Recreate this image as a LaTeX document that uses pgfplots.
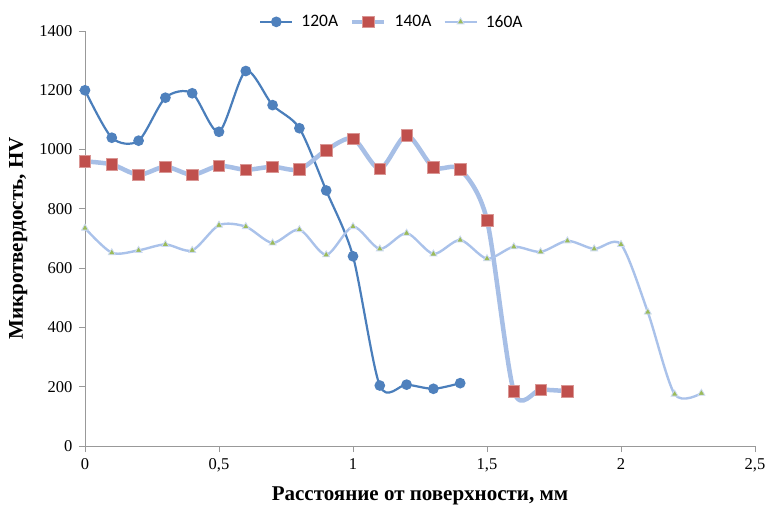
\documentclass[border=0pt]{standalone}
\usepackage{pgfplots}
\pgfplotsset{compat=1.18}
\usepackage{fontspec}
\setmainfont{Liberation Serif}
\newfontfamily\legfont{Carlito}
\definecolor{cA}{RGB}{74,126,187}
\definecolor{cAm}{RGB}{79,129,189}
\definecolor{cB}{RGB}{167,191,230}
\definecolor{cBm}{RGB}{192,80,77}
\definecolor{cC}{RGB}{170,194,234}
\definecolor{cCm}{RGB}{155,187,89}
\begin{document}
\begin{tikzpicture}
\path[use as bounding box] (-85pt,-61pt) rectangle (681pt,446pt);
\begin{axis}[
  at={(0pt,0pt)}, anchor=south west,
  scale only axis, width=670pt, height=415pt,
  xmin=0, xmax=2.5, ymin=0, ymax=1400,
  axis lines=left, axis line style={draw=gray!80, line width=0.8pt, -},
  xtick={0,0.5,1,1.5,2,2.5}, ytick={0,200,400,600,800,1000,1200,1400},
  xticklabels={0,{0,5},1,{1,5},2,{2,5}},
  yticklabels={0,200,400,600,800,1000,1200,1400},
  tick style={draw=gray!80, line width=0.8pt},
  tick align=outside, major tick length=6pt,
  tick label style={font=\rmfamily\fontsize{16.5}{19}\selectfont},
  xticklabel style={yshift=-3pt},
  yticklabel style={xshift=-3pt},
  xlabel={\textbf{Расстояние от поверхности, мм}},
  ylabel={\textbf{Микротвердость, HV}},
  label style={font=\rmfamily\fontsize{21}{24}\selectfont},
  xlabel style={at={(rel axis cs:0.5,0)}, anchor=north, yshift=-37pt},
  ylabel style={at={(rel axis cs:0,0.5)}, anchor=south, yshift=54pt},
  legend columns=3,
  legend style={draw=none, fill=none, at={(rel axis cs:0.458,1.022)}, anchor=center,
    font=\legfont\fontsize{17.5}{20}\selectfont, column sep=6pt,
    /tikz/every even column/.append style={column sep=10pt}},
  legend image code/.code={\draw[#1] (0pt,0pt) -- (15pt,0pt) (15pt,0pt) -- (32pt,0pt); \draw[#1, only marks] plot coordinates {(16pt,0pt)};},
  smooth, tension=0.47,
]
\addplot[color=cA, line width=2.2pt, mark=*, mark size=4.2pt, mark options={fill=cAm, draw=cAm}] coordinates {
(0,1200) (0.1,1040) (0.2,1030) (0.3,1175) (0.4,1190) (0.5,1060) (0.6,1265) (0.7,1150) (0.8,1072) (0.9,862) (1.0,640) (1.1,204) (1.2,207) (1.3,193) (1.4,212)};
\addlegendentry{120A}
\addplot[color=cB, line width=4.5pt, mark=square*, mark size=5.8pt, mark options={fill=cBm, draw=cBm!60!white, line width=0.6pt}] coordinates {
(0,960) (0.1,950) (0.2,915) (0.3,942) (0.4,915) (0.5,945) (0.6,932) (0.7,942) (0.8,933) (0.9,998) (1.0,1037) (1.1,935) (1.2,1048) (1.3,940) (1.4,933) (1.5,762) (1.6,185) (1.7,190) (1.8,185)};
\addlegendentry{140A}
\addplot[color=cC, line width=2.4pt, mark=triangle*, mark size=4pt, mark options={fill=cCm, draw=cC!60!white, line width=0.8pt}] coordinates {
(0,735) (0.1,652) (0.2,660) (0.3,680) (0.4,660) (0.5,745) (0.6,740) (0.7,685) (0.8,730) (0.9,645) (1.0,740) (1.1,665) (1.2,718) (1.3,648) (1.4,695) (1.5,632) (1.6,672) (1.7,655) (1.8,692) (1.9,665) (2.0,680) (2.1,452) (2.2,175) (2.3,178)};
\addlegendentry{160A}
\end{axis}
\end{tikzpicture}
\end{document}
